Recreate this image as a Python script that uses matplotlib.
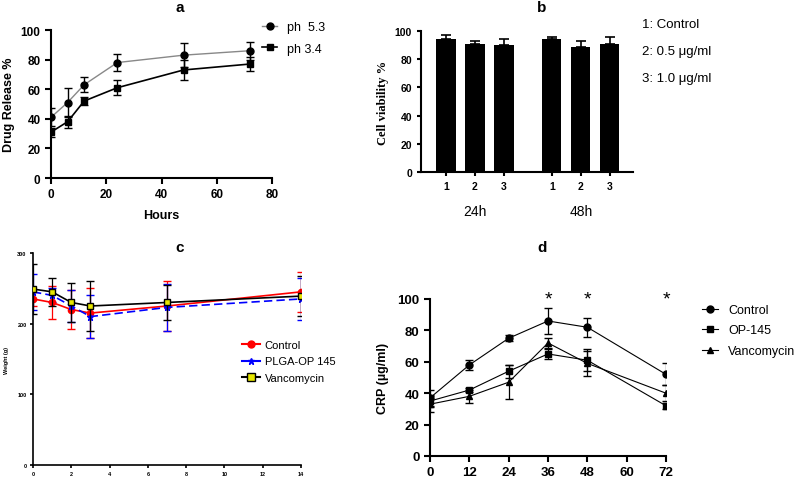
import matplotlib
matplotlib.use("Agg")
import matplotlib.pyplot as plt
from matplotlib.lines import Line2D

plt.rcParams['font.family'] = ['Liberation Sans', 'DejaVu Sans']

# ---------------- data ----------------
# Panel a: drug release
a_hours = [0, 6, 12, 24, 48, 72]
a_ph53 = [41, 51, 63, 78, 83, 86]
a_ph53_err = [6, 10, 5, 6, 8, 6]
a_ph34 = [31, 38, 52, 61, 73, 77]
a_ph34_err = [3, 4, 3, 5, 7, 5]

# Panel b: cell viability
b_groups = ["24h", "48h"]
b_labels = ["1", "2", "3"]
b_24h = [94, 91, 90]
b_24h_err = [3, 2, 4]
b_48h = [94, 89, 91]
b_48h_err = [2, 4, 5]
b_legend = ["1: Control", "2: 0.5 \u03bcg/ml", "3: 1.0 \u03bcg/ml"]

# Panel c: weight
c_days = [0, 1, 2, 3, 7, 14]
c_control = [235, 230, 220, 215, 225, 245]
c_control_err = [10, 23, 28, 35, 35, 28]
c_plga = [245, 240, 225, 210, 223, 235]
c_plga_err = [25, 10, 23, 30, 33, 30]
c_vanco = [249, 245, 230, 225, 230, 239]
c_vanco_err = [35, 20, 28, 35, 25, 28]

# Panel d: CRP
d_hours = [0, 12, 24, 36, 48, 72]
d_control = [37, 58, 75, 86, 82, 52]
d_control_err = [5, 3, 2, 8, 6, 7]
d_op145 = [35, 42, 54, 65, 61, 32]
d_op145_err = [4, 1, 4, 3, 7, 2]
d_vanco = [33, 38, 47, 72, 59, 40]
d_vanco_err = [5, 4, 11, 3, 8, 5]
d_star_hours = [36, 48, 72]

W, H = 798, 481
fig = plt.figure(figsize=(W / 100, H / 100), dpi=100)


def px(l, t, r, b):
    return [l / W, 1 - b / H, (r - l) / W, (b - t) / H]


def style(ax, lw=1.5):
    for s in ['top', 'right']:
        ax.spines[s].set_visible(False)
    for s in ['left', 'bottom']:
        ax.spines[s].set_linewidth(lw)
    ax.tick_params(direction='out', width=lw)


def title(x, y, s):
    fig.text(x / W, 1 - y / H, s, fontsize=11, fontweight='bold',
             ha='center', va='center')


def legend(handles, labels, x, ytop, fs, hl, ls, tp):
    fig.legend(handles, labels, loc='upper left',
               bbox_to_anchor=(x / W, 1 - ytop / H), frameon=False,
               fontsize=fs, handlelength=hl, labelspacing=ls,
               handletextpad=tp, borderpad=0, borderaxespad=0)


# ---------------- panel a ----------------
axa = fig.add_axes(px(51, 31, 272, 179))
style(axa)
axa.errorbar(a_hours, a_ph53, yerr=a_ph53_err, color='#888888', lw=1.0,
             marker='o', ms=5, mfc='black', mec='black', ecolor='black',
             elinewidth=1.0, capsize=3, zorder=3)
axa.errorbar(a_hours, a_ph34, yerr=a_ph34_err, color='black', lw=1.2,
             marker='s', ms=5, mfc='black', mec='black', ecolor='black',
             elinewidth=1.0, capsize=3, zorder=3)
axa.set_xlim(0, 80)
axa.set_ylim(0, 100)
axa.set_xticks([0, 20, 40, 60, 80])
axa.set_yticks([0, 20, 40, 60, 80, 100])
axa.tick_params(labelsize=8.5, length=4)
for t in axa.get_xticklabels() + axa.get_yticklabels():
    t.set_fontweight('bold')
axa.set_xlabel('Hours', fontsize=9, fontweight='bold', labelpad=6)
axa.set_ylabel('Drug Release %', fontsize=9, fontweight='bold', labelpad=4)
title(180, 8, 'a')
ha = [Line2D([], [], color='#888888', lw=1.0, marker='o', ms=5,
             mfc='black', mec='black'),
      Line2D([], [], color='black', lw=1.2, marker='s', ms=5,
             mfc='black', mec='black')]
legend(ha, ['ph  5.3', 'ph 3.4'], 262, 22, 9, 1.2, 0.76, 0.8)

# ---------------- panel b ----------------
axb = fig.add_axes(px(421, 32, 633, 173))
style(axb)
pos24 = [0, 1, 2]
pos48 = [3.65, 4.65, 5.65]
bw = 0.66
axb.bar(pos24, b_24h, width=bw, color='black',
        yerr=[[0] * 3, b_24h_err], ecolor='black',
        error_kw=dict(elinewidth=1.2, capsize=3.5, capthick=1.2))
axb.bar(pos48, b_48h, width=bw, color='black',
        yerr=[[0] * 3, b_48h_err], ecolor='black',
        error_kw=dict(elinewidth=1.2, capsize=3.5, capthick=1.2))
axb.set_xlim(-0.86, 6.45)
axb.set_ylim(0, 100)
axb.set_yticks([0, 20, 40, 60, 80, 100])
axb.set_xticks(pos24 + pos48)
axb.set_xticklabels(b_labels + b_labels)
axb.tick_params(labelsize=7.5, length=3)
for t in axb.get_xticklabels() + axb.get_yticklabels():
    t.set_fontweight('bold')
axb.set_ylabel('Cell viability %', fontsize=9, fontweight='bold',
               family='Liberation Serif', labelpad=4)
title(542, 8, 'b')
for name, xc in zip(b_groups, [sum(pos24) / 3, sum(pos48) / 3]):
    axb.annotate(name, xy=(xc, 0), xycoords=('data', 'axes fraction'),
                 xytext=(0, -28), textcoords='offset points',
                 ha='center', va='center', fontsize=10)
for i, txt in enumerate(b_legend):
    fig.text(642 / W, 1 - (25 + 27 * i) / H, txt, fontsize=9.5,
             ha='left', va='center')

# ---------------- panel c ----------------
axc = fig.add_axes(px(33, 254, 301, 466))
style(axc, lw=1.2)
axc.errorbar(c_days, c_control, yerr=c_control_err, color='red', lw=1.2,
             marker='o', ms=4.5, mfc='red', mec='red', ecolor='red',
             elinewidth=0.9, capsize=3, zorder=3)
axc.errorbar(c_days, c_plga, yerr=c_plga_err, color='blue', lw=1.2,
             ls='--', dashes=(5, 2.5),
             marker='*', ms=4.5, mfc='blue', mec='blue', ecolor='blue',
             elinewidth=0.9, capsize=3, zorder=3)
axc.errorbar(c_days, c_vanco, yerr=c_vanco_err, color='black', lw=1.2,
             marker='s', ms=5, mfc='#e6e600', mec='black', ecolor='black',
             elinewidth=0.9, capsize=3, zorder=4)
axc.set_xlim(0, 14)
axc.set_ylim(0, 300)
axc.set_xticks(range(0, 15, 2))
axc.set_yticks([0, 100, 200, 300])
axc.tick_params(labelsize=4, length=2.5, pad=2)
for t in axc.get_xticklabels() + axc.get_yticklabels():
    t.set_fontweight('bold')
axc.set_ylabel('Weight (g)', fontsize=4, fontweight='bold', labelpad=6)
title(180, 248, 'c')
hcs = [Line2D([], [], color='red', lw=1.5, marker='o', ms=5,
              mfc='red', mec='red'),
       Line2D([], [], color='blue', lw=1.5, marker='*', ms=5,
              mfc='blue', mec='blue'),
       Line2D([], [], color='black', lw=1.5, marker='s', ms=6,
              mfc='#e6e600', mec='black')]
legend(hcs, ['Control', 'PLGA-OP 145', 'Vancomycin'], 242, 341, 8,
       1.6, 0.58, 0.45)

# ---------------- panel d ----------------
axd = fig.add_axes(px(430, 300, 666, 457))
style(axd)
axd.errorbar(d_hours, d_control, yerr=d_control_err, color='black', lw=0.8,
             marker='o', ms=5, ecolor='black', elinewidth=0.9, capsize=3,
             zorder=3)
axd.errorbar(d_hours, d_op145, yerr=d_op145_err, color='black', lw=0.8,
             marker='s', ms=5, ecolor='black', elinewidth=0.9, capsize=3,
             zorder=3)
axd.errorbar(d_hours, d_vanco, yerr=d_vanco_err, color='black', lw=0.8,
             marker='^', ms=5, ecolor='black', elinewidth=0.9, capsize=3,
             zorder=3)
axd.set_xlim(0, 72)
axd.set_ylim(0, 100)
axd.set_xticks(range(0, 73, 12))
axd.set_yticks([0, 20, 40, 60, 80, 100])
axd.tick_params(labelsize=9.5, length=4)
for t in axd.get_xticklabels() + axd.get_yticklabels():
    t.set_fontweight('bold')
axd.set_ylabel('CRP (\u00b5g/ml)', fontsize=9, fontweight='bold', labelpad=6)
title(542, 248, 'd')
for xh in d_star_hours:
    axd.annotate('*', xy=(xh, 100), xycoords='data', xytext=(0, 0),
                 textcoords='offset points', ha='center', va='center',
                 fontsize=14, annotation_clip=False)
hds = [Line2D([], [], color='black', lw=0.8, marker='o', ms=5),
       Line2D([], [], color='black', lw=0.8, marker='s', ms=5),
       Line2D([], [], color='black', lw=0.8, marker='^', ms=5)]
legend(hds, ['Control', 'OP-145', 'Vancomycin'], 702, 305, 9,
       1.3, 0.68, 0.8)

fig.savefig('out.png', dpi=100)
